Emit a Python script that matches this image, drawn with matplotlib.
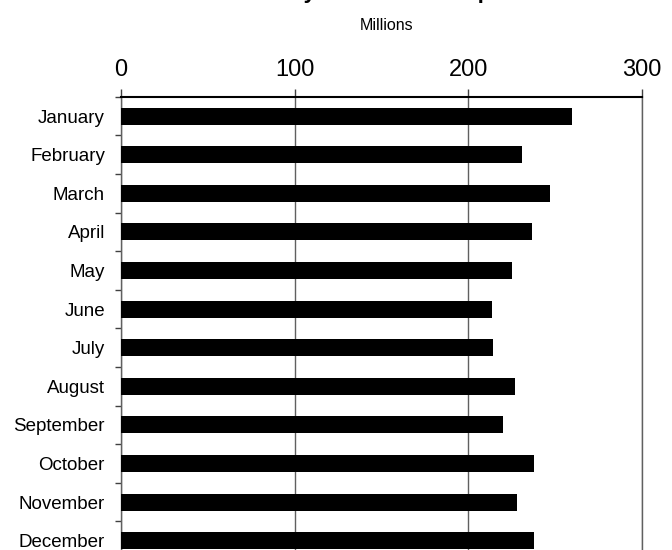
import matplotlib
matplotlib.use('Agg')
import matplotlib.pyplot as plt
import numpy as np

months = ['January', 'February', 'March', 'April', 'May', 'June',
          'July', 'August', 'September', 'October', 'November', 'December']
values = [260, 231, 247, 237, 225, 214, 214.5, 227, 220, 238, 228, 238]
xticks = [0, 100, 200, 300]

plt.rcParams['font.family'] = ['Liberation Sans', 'DejaVu Sans']

fig = plt.figure(figsize=(6.72, 5.5), dpi=100)
ax = fig.add_axes([0.180, -0.018, 0.775, 0.8418])

pos = np.arange(len(months))
ax.barh(pos, values, height=0.44, color='black', zorder=3)

ax.set_xlim(0, 300)
ax.set_ylim(len(months) - 0.5, -0.5)

ax.xaxis.tick_top()
ax.set_xticks(xticks)
ax.set_xticklabels([str(t) for t in xticks], fontsize=17)
ax.tick_params(axis='x', direction='out', length=6, width=1, color='#404040', pad=5.5)

ax.set_yticks(pos)
ax.set_yticklabels(months, fontsize=13.5)
ax.set_yticks(np.arange(len(months) + 1) - 0.5, minor=True)
ax.tick_params(axis='y', which='major', length=0, pad=11.5)
ax.tick_params(axis='y', which='minor', length=4, width=1, color='#404040')

ax.grid(axis='x', color='#606060', linewidth=1, zorder=0)

for s in ['left', 'right', 'bottom']:
    ax.spines[s].set_color('#606060')
    ax.spines[s].set_linewidth(1)
ax.spines['top'].set_color('black')
ax.spines['top'].set_linewidth(1.5)

fig.text(0.575, 0.953, 'Millions', ha='center', va='center', fontsize=11.5)
fig.text(0.5675, 1.003, 'Monthly Water Consumption', ha='center', va='baseline',
         fontsize=16, fontweight='bold')

fig.savefig('out.png', dpi=100)
